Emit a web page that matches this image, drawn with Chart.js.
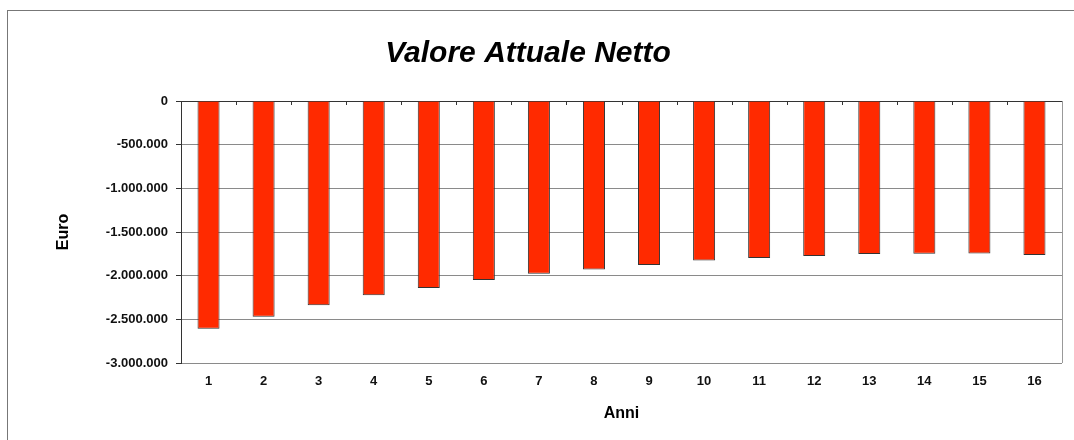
<!DOCTYPE html>
<html>
<head>
<meta charset="utf-8">
<script src="https://cdn.jsdelivr.net/npm/chart.js@4/dist/chart.umd.min.js"></script>
<style>
  html, body { margin: 0; padding: 0; background: #fff; overflow: hidden; }
  #frame { position: absolute; left: 7px; top: 10px; width: 1100px; height: 460px; border: 1px solid #777; }
  #wrap { position: absolute; left: 0; top: 0; width: 1074px; height: 440px; }
</style>
</head>
<body>
<div id="frame"></div>
<div id="wrap"><canvas id="vanChart"></canvas></div>
<script>
// Data
const anni = ["1", "2", "3", "4", "5", "6", "7", "8", "9", "10", "11", "12", "13", "14", "15", "16"];
const van = [-2607000, -2469000, -2339000, -2225000, -2141000, -2050000, -1977000, -1928000,
  -1878000, -1825000, -1798000, -1775000, -1752000, -1748000, -1747000, -1764000];
const yTicks = [0, -500000, -1000000, -1500000, -2000000, -2500000, -3000000];

const fontFamily = "'Liberation Sans', Arial, sans-serif";

// numbers like -1.500.000
function formatEuro(v) {
  const s = Math.abs(v).toString().replace(/\B(?=(\d{3})+(?!\d))/g, ".");
  return (v < 0 ? "-" : "") + s;
}

// right border of the plot + small category ticks on the zero line
const plotExtras = {
  id: "plotExtras",
  afterDatasetsDraw(chart) {
    const { ctx, chartArea, scales } = chart;
    const x = scales.x, y = scales.y;
    ctx.save();
    ctx.strokeStyle = "#999";
    ctx.lineWidth = 1;
    ctx.beginPath();
    ctx.moveTo(Math.round(chartArea.right) + 0.5, chartArea.top);
    ctx.lineTo(Math.round(chartArea.right) + 0.5, chartArea.bottom);
    ctx.stroke();

    const y0 = y.getPixelForValue(0);
    ctx.strokeStyle = "#333";
    ctx.beginPath();
    for (let i = 1; i < anni.length; i++) {
      const px = Math.round((x.getPixelForValue(i - 1) + x.getPixelForValue(i)) / 2) + 0.5;
      ctx.moveTo(px, y0);
      ctx.lineTo(px, y0 + 4);
    }
    ctx.stroke();
    ctx.restore();
  }
};

const ctx = document.getElementById("vanChart");
new Chart(ctx, {
  type: "bar",
  data: {
    labels: anni,
    datasets: [
      {
        label: "VAN",
        data: van,
        backgroundColor: "#ff2a00",
        borderColor: "#333",
        borderWidth: 1,
        categoryPercentage: 1,
        barPercentage: 0.4,
      },
    ],
  },
  options: {
    responsive: true,
    maintainAspectRatio: false,
    animation: false,
    layout: { padding: { left: -6, right: 12, top: 0, bottom: 0 } },
    plugins: {
      legend: { display: false },
      tooltip: { enabled: false },
      title: {
        display: true,
        text: "Valore Attuale Netto",
        color: "#000",
        font: { family: fontFamily, size: 30, weight: "bold", style: "italic" },
        padding: { top: 35.5, bottom: 29.5 },
      },
    },
    scales: {
      x: {
        grid: { display: false, drawTicks: false },
        border: { display: false },
        ticks: { color: "#111", padding: 11, font: { family: fontFamily, size: 13, weight: "bold" } },
        title: {
          display: true,
          text: "Anni",
          color: "#000",
          font: { family: fontFamily, size: 16, weight: "bold" },
          padding: { top: 0, bottom: 17 },
        },
        afterFit(scale) { scale.height = 77; },
      },
      y: {
        min: -3000000,
        max: 0,
        afterBuildTicks(scale) { scale.ticks = yTicks.map((v) => ({ value: v })); },
        grid: {
          color: (c) => (c.tick && c.tick.value === 0 ? "#333" : "#8a8a8a"),
          tickColor: "#333",
          tickLength: 5,
          lineWidth: 1,
        },
        border: { display: true, color: "#333", width: 1 },
        ticks: {
          color: "#111",
          padding: 8,
          font: { family: fontFamily, size: 13, weight: "bold" },
          callback: (v) => formatEuro(v),
        },
        title: {
          display: true,
          text: "Euro",
          color: "#000",
          font: { family: fontFamily, size: 16, weight: "bold" },
          padding: { top: 60, bottom: 0 },
        },
        afterFit(scale) { scale.width = 187; },
      },
    },
  },
  plugins: [plotExtras],
});
</script>
</body>
</html>
